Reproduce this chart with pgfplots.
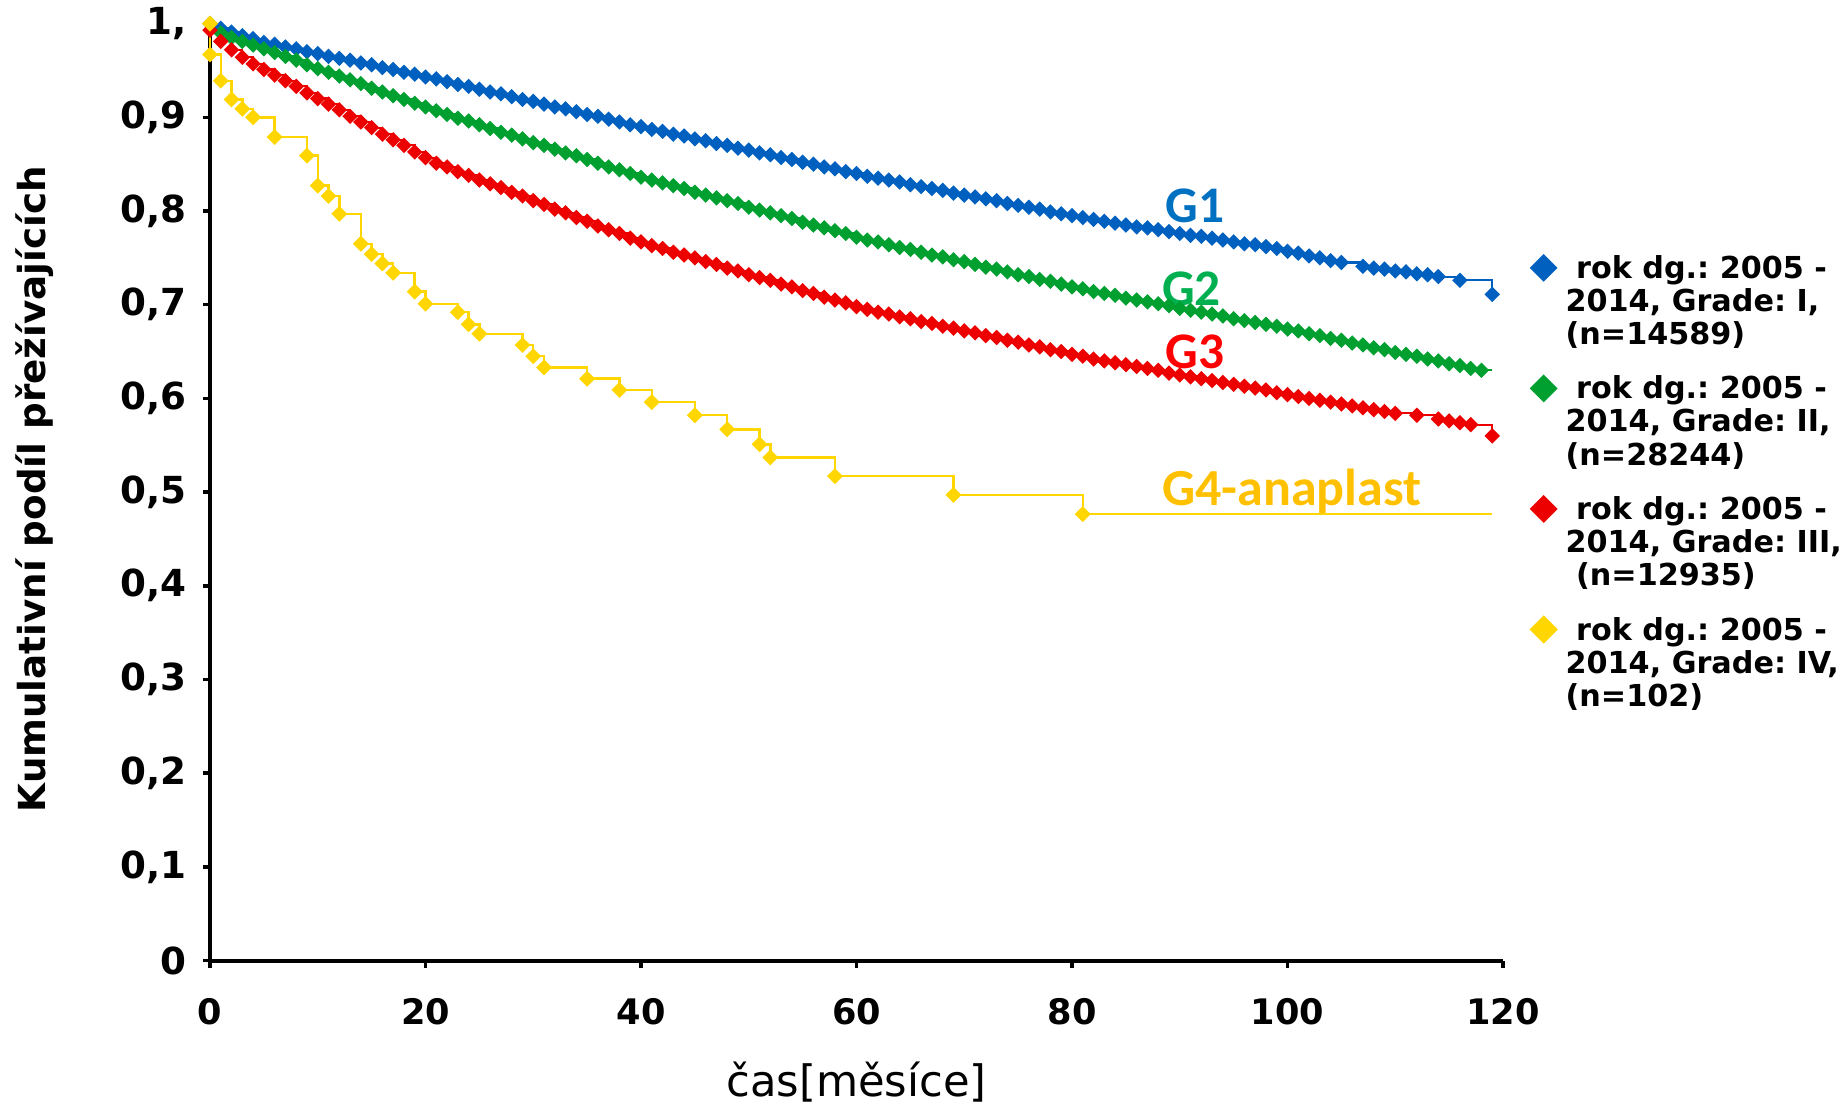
\documentclass[border=0pt]{standalone}
\usepackage{fontspec}
\setmainfont{DejaVu Sans}
\newfontfamily\carlito{Carlito}
\usepackage{pgfplots}
\pgfplotsset{compat=1.18}
\frenchspacing
\definecolor{cBlue}{RGB}{0,96,192}
\definecolor{cGreen}{RGB}{0,160,48}
\definecolor{cRed}{RGB}{236,0,0}
\definecolor{cYellow}{RGB}{255,214,0}
\definecolor{lBlue}{RGB}{0,112,192}
\definecolor{lGreen}{RGB}{0,176,80}
\definecolor{lRed}{RGB}{255,0,0}
\definecolor{lGold}{RGB}{255,192,0}
\newcommand{\lent}[3]{\begin{tabular}[t]{@{}l@{}}#1\\#2\\#3\end{tabular}}
\begin{document}
\begin{tikzpicture}
\begin{axis}[
  name=ax,
  scale only axis, width=12.93cm, height=9.37cm,
  xmin=0, xmax=120, ymin=0, ymax=1,
  clip=false,
  axis x line*=bottom, axis y line*=left,
  axis line style={line width=1.1pt, black},
  xtick={0,20,40,60,80,100,120},
  ytick={0,0.1,0.2,0.3,0.4,0.5,0.6,0.7,0.8,0.9,1},
  yticklabels={0,{0,1},{0,2},{0,3},{0,4},{0,5},{0,6},{0,7},{0,8},{0,9},{1,}},
  tick align=outside, major tick length=0.07cm,
  tick style={line width=1pt, black},
  /pgf/number format/assume math mode=true,
  xticklabel style={anchor=center, inner sep=0pt, yshift=-0.44cm, font=\bfseries\fontsize{10}{12}\selectfont},
  yticklabel style={anchor=east, inner sep=0pt, xshift=-0.16cm, font=\bfseries\fontsize{10.6}{12}\selectfont},
  xlabel={čas[měsíce]},
  ylabel={Kumulativní podíl přežívajících},
  every axis x label/.style={at={(axis description cs:0.5,-0.1297)}, anchor=center, font=\fontsize{12.3}{14}\selectfont},
  every axis y label/.style={at={(axis description cs:-0.1353,0.503)}, rotate=90, anchor=center, font=\bfseries\fontsize{10.6}{12}\selectfont},
  every axis legend/.style={cells={anchor=base west}, inner sep=0pt, nodes={inner sep=0pt, text depth=}, anchor=north west, at={(axis description cs:1.0213,0.7535)}, draw=none, fill=none, row sep=6.1pt, column sep=0.095cm, font=\bfseries\fontsize{8.6}{9.4}\selectfont},
  legend image code/.code={\draw[#1, only marks, mark size=2.5pt] plot coordinates {(0.125cm,3pt)};},
]
\addplot[const plot, color=cBlue, line width=0.6pt, mark=square*, mark size=1.25pt, mark options={rotate=45, solid, fill=cBlue, draw=cBlue}] coordinates {
(0,1.000)(1,0.995)(2,0.991)(3,0.987)(4,0.984)(5,0.980)(6,0.978)(7,0.975)(8,0.973)(9,0.970)(10,0.968)(11,0.965)(12,0.963)(13,0.961)(14,0.958)(15,0.956)(16,0.953)(17,0.951)(18,0.948)(19,0.946)(20,0.943)(21,0.941)(22,0.938)(23,0.935)(24,0.933)(25,0.930)(26,0.927)(27,0.925)(28,0.922)(29,0.919)(30,0.917)(31,0.914)(32,0.911)(33,0.909)(34,0.906)(35,0.903)(36,0.901)(37,0.898)(38,0.895)(39,0.892)(40,0.890)(41,0.887)(42,0.885)(43,0.882)(44,0.880)(45,0.877)(46,0.875)(47,0.872)(48,0.870)(49,0.867)(50,0.865)(51,0.862)(52,0.860)(53,0.857)(54,0.855)(55,0.852)(56,0.850)(57,0.847)(58,0.845)(59,0.842)(60,0.840)(61,0.837)(62,0.835)(63,0.833)(64,0.831)(65,0.828)(66,0.826)(67,0.824)(68,0.822)(69,0.819)(70,0.817)(71,0.815)(72,0.813)(73,0.811)(74,0.808)(75,0.806)(76,0.804)(77,0.802)(78,0.799)(79,0.797)(80,0.795)(81,0.793)(82,0.791)(83,0.789)(84,0.787)(85,0.785)(86,0.783)(87,0.782)(88,0.780)(89,0.778)(90,0.776)(91,0.774)(92,0.773)(93,0.771)(94,0.769)(95,0.767)(96,0.765)(97,0.764)(98,0.762)(99,0.760)(100,0.757)(101,0.755)(102,0.752)(103,0.750)(104,0.747)(105,0.745)(107,0.741)(108,0.739)(109,0.738)(110,0.736)(111,0.735)(112,0.733)(113,0.732)(114,0.730)(116,0.726)(119,0.711)};
\addlegendentry{\lent{\ rok dg.: 2005 -}{2014, Grade: I,}{(n=14589)}}
\addplot[const plot, color=cGreen, line width=0.6pt, mark=square*, mark size=1.25pt, mark options={rotate=45, solid, fill=cGreen, draw=cGreen}] coordinates {
(0,1.000)(1,0.990)(2,0.985)(3,0.981)(4,0.977)(5,0.973)(6,0.969)(7,0.965)(8,0.961)(9,0.956)(10,0.952)(11,0.948)(12,0.944)(13,0.940)(14,0.936)(15,0.931)(16,0.927)(17,0.923)(18,0.919)(19,0.915)(20,0.911)(21,0.907)(22,0.903)(23,0.899)(24,0.896)(25,0.892)(26,0.888)(27,0.884)(28,0.881)(29,0.877)(30,0.873)(31,0.870)(32,0.866)(33,0.862)(34,0.859)(35,0.855)(36,0.851)(37,0.847)(38,0.844)(39,0.840)(40,0.836)(41,0.833)(42,0.830)(43,0.827)(44,0.824)(45,0.820)(46,0.817)(47,0.814)(48,0.811)(49,0.808)(50,0.804)(51,0.801)(52,0.798)(53,0.795)(54,0.792)(55,0.788)(56,0.785)(57,0.782)(58,0.779)(59,0.776)(60,0.772)(61,0.769)(62,0.767)(63,0.764)(64,0.761)(65,0.759)(66,0.756)(67,0.753)(68,0.751)(69,0.748)(70,0.746)(71,0.743)(72,0.740)(73,0.738)(74,0.735)(75,0.732)(76,0.730)(77,0.727)(78,0.725)(79,0.722)(80,0.719)(81,0.717)(82,0.714)(83,0.712)(84,0.710)(85,0.707)(86,0.705)(87,0.703)(88,0.701)(89,0.699)(90,0.696)(91,0.694)(92,0.692)(93,0.690)(94,0.688)(95,0.685)(96,0.683)(97,0.681)(98,0.679)(99,0.677)(100,0.674)(101,0.672)(102,0.669)(103,0.667)(104,0.664)(105,0.662)(106,0.659)(107,0.657)(108,0.654)(109,0.652)(110,0.649)(111,0.647)(112,0.645)(113,0.642)(114,0.640)(115,0.637)(116,0.635)(117,0.632)(118,0.630)};
\addlegendentry{\lent{\ rok dg.: 2005 -}{2014, Grade: II,}{(n=28244)}}
\addplot[forget plot, color=cGreen, line width=0.6pt, no marks] coordinates {(118,0.630)(119,0.630)};
\addplot[const plot, color=cRed, line width=0.6pt, mark=square*, mark size=1.25pt, mark options={rotate=45, solid, fill=cRed, draw=cRed}] coordinates {
(0,0.993)(1,0.981)(2,0.972)(3,0.964)(4,0.957)(5,0.951)(6,0.945)(7,0.939)(8,0.933)(9,0.926)(10,0.920)(11,0.914)(12,0.908)(13,0.901)(14,0.895)(15,0.889)(16,0.882)(17,0.876)(18,0.870)(19,0.863)(20,0.857)(21,0.851)(22,0.847)(23,0.842)(24,0.838)(25,0.833)(26,0.829)(27,0.825)(28,0.820)(29,0.816)(30,0.811)(31,0.807)(32,0.802)(33,0.798)(34,0.793)(35,0.789)(36,0.784)(37,0.780)(38,0.776)(39,0.771)(40,0.767)(41,0.763)(42,0.760)(43,0.756)(44,0.753)(45,0.750)(46,0.746)(47,0.743)(48,0.739)(49,0.736)(50,0.732)(51,0.729)(52,0.726)(53,0.722)(54,0.719)(55,0.715)(56,0.712)(57,0.708)(58,0.705)(59,0.702)(60,0.698)(61,0.695)(62,0.692)(63,0.690)(64,0.687)(65,0.685)(66,0.682)(67,0.680)(68,0.677)(69,0.675)(70,0.672)(71,0.670)(72,0.667)(73,0.665)(74,0.662)(75,0.660)(76,0.657)(77,0.655)(78,0.652)(79,0.650)(80,0.647)(81,0.645)(82,0.642)(83,0.640)(84,0.638)(85,0.636)(86,0.634)(87,0.632)(88,0.630)(89,0.627)(90,0.625)(91,0.623)(92,0.621)(93,0.619)(94,0.617)(95,0.615)(96,0.613)(97,0.611)(98,0.609)(99,0.606)(100,0.604)(101,0.602)(102,0.600)(103,0.598)(104,0.596)(105,0.594)(106,0.592)(107,0.590)(108,0.588)(109,0.586)(110,0.584)(112,0.582)(114,0.578)(115,0.576)(116,0.574)(117,0.572)(119,0.560)};
\addlegendentry{\lent{\ rok dg.: 2005 -}{2014, Grade: III,}{\ (n=12935)}}
\addplot[const plot, color=cYellow, line width=0.7pt, mark=square*, mark size=1.25pt, mark options={rotate=45, solid, fill=cYellow, draw=cYellow}] coordinates {
(0,1.000)(0,0.967)(1,0.939)(2,0.919)(3,0.909)(4,0.900)(6,0.879)(9,0.859)(10,0.827)(11,0.816)(12,0.797)(14,0.765)(15,0.754)(16,0.744)(17,0.734)(19,0.714)(20,0.701)(23,0.692)(24,0.679)(25,0.669)(29,0.657)(30,0.645)(31,0.633)(35,0.621)(38,0.609)(41,0.596)(45,0.582)(48,0.567)(51,0.551)(52,0.537)(58,0.517)(69,0.497)(81,0.4765)};
\addlegendentry{\lent{\ rok dg.: 2005 -}{2014, Grade: IV,}{(n=102)}}
\addplot[forget plot, color=cYellow, line width=0.7pt, no marks] coordinates {(81,0.4765)(119,0.4765)};
\node[anchor=base west, inner sep=0pt, text=lBlue, font=\carlito\bfseries\fontsize{14.6}{16}\selectfont] at (axis cs:88.6,0.788) {G1};
\node[anchor=base west, inner sep=0pt, text=lGreen, font=\carlito\bfseries\fontsize{14.6}{16}\selectfont] at (axis cs:88.3,0.6996) {G2};
\node[anchor=base west, inner sep=0pt, text=lRed, font=\carlito\bfseries\fontsize{14.6}{16}\selectfont] at (axis cs:88.6,0.632) {G3};
\node[anchor=base west, inner sep=0pt, text=lGold, font=\carlito\bfseries\fontsize{14.8}{16}\selectfont] at (axis cs:88.3,0.486) {G4-anaplast};
\end{axis}
\pgfresetboundingbox
\path[use as bounding box] ([shift={(-2.10cm,-1.455cm)}]ax.south west) rectangle ([shift={(3.45cm,0.236cm)}]ax.north east);
\end{tikzpicture}
\end{document}
